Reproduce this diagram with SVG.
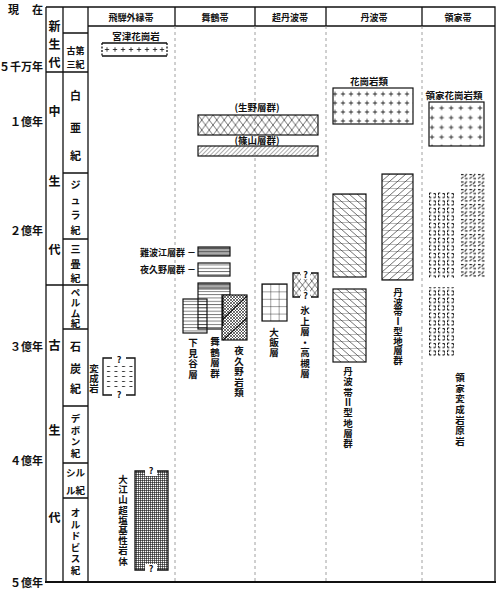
<svg xmlns="http://www.w3.org/2000/svg" width="500" height="589" viewBox="0 0 500 589">
<style>
text{font-family:"Noto Sans CJK JP","Noto Sans CJK SC",sans-serif;font-weight:bold;fill:#111}
.c{text-anchor:middle;dominant-baseline:central}
.era{font-size:12px}
.per{font-size:11px}
.ps{font-size:9.5px}
.pj{font-size:10px}
.tl{font-size:11px;text-anchor:end;dominant-baseline:central}
.hd{font-size:9px;text-anchor:middle;dominant-baseline:central}
.lb{font-size:9.5px;text-anchor:middle;dominant-baseline:central}
.vt{font-size:9.5px;text-anchor:middle;dominant-baseline:central}
.q{font-size:9px;text-anchor:middle;dominant-baseline:central}
.ln{stroke:#111;stroke-width:1.3;fill:none}
.dash{stroke:#888;stroke-width:0.8;stroke-dasharray:3 3;fill:none}
.bx{stroke:#111;stroke-width:1.2}
</style>
<defs>
<pattern id="crossA" patternUnits="userSpaceOnUse" x="331" y="89.5" width="8" height="9"><path d="M4 2.3v4.4M1.8 4.5h4.4" stroke="#111" stroke-width="0.8"/></pattern>
<pattern id="crossB" patternUnits="userSpaceOnUse" x="427.2" y="103.15" width="9.6" height="9.7"><path d="M4.8 2.6v4.5M2.55 4.85h4.5" stroke="#111" stroke-width="0.8"/></pattern>
<pattern id="xh" patternUnits="userSpaceOnUse" x="198" y="115" width="7.5" height="10"><path d="M0 0L7.5 10M7.5 0L0 10" stroke="#111" stroke-width="0.6"/></pattern>
<pattern id="xh6" patternUnits="userSpaceOnUse" x="293" y="273" width="6.25" height="8"><path d="M0 0L6.25 8M6.25 0L0 8" stroke="#111" stroke-width="0.6"/></pattern>
<pattern id="diag" patternUnits="userSpaceOnUse" width="3" height="3" patternTransform="rotate(45)"><path d="M0 0V3" stroke="#111" stroke-width="0.7"/></pattern>
<pattern id="hl" patternUnits="userSpaceOnUse" width="4" height="3.3" y="0.5"><path d="M0 0.5H4" stroke="#111" stroke-width="0.6"/></pattern>
<pattern id="grid" patternUnits="userSpaceOnUse" x="262" y="284" width="8.33" height="7.4"><path d="M0 0H8.33M0 0V7.4" stroke="#111" stroke-width="0.8"/></pattern>
<pattern id="fine" patternUnits="userSpaceOnUse" width="2" height="2"><path d="M0 0.5H2M0.5 0V2" stroke="#111" stroke-width="0.6"/></pattern>
<pattern id="chk" patternUnits="userSpaceOnUse" width="3" height="3"><path d="M0 0L3 3M3 0L0 3" stroke="#111" stroke-width="0.6"/></pattern>
<pattern id="tbII" patternUnits="userSpaceOnUse" x="333" y="194" width="8" height="7"><path d="M0 0L8 7M0 0H8" stroke="#111" stroke-width="0.6"/></pattern>
<pattern id="tbI" patternUnits="userSpaceOnUse" x="382" y="174" width="8" height="7"><path d="M0 7L8 0M0 0H8" stroke="#111" stroke-width="0.6"/></pattern>
<pattern id="dsh" patternUnits="userSpaceOnUse" x="105" y="364" width="7.5" height="5"><path d="M2 2.5h3" stroke="#111" stroke-width="0.8"/></pattern>
<pattern id="ryA" patternUnits="userSpaceOnUse" x="428" y="192" width="9" height="7.5"><path d="M1.5 1h2M1.5 1v4.5M1.5 5.5h2M5.5 1.5h2M7.5 1.5v4M5.5 5.5h2" stroke="#111" stroke-width="1" stroke-dasharray="1.8 1"/></pattern>
<pattern id="ryB" patternUnits="userSpaceOnUse" x="460" y="173" width="8.5" height="7.5"><path d="M1 1.5h2.5M6.8 0.8l-2.2 2.8M1 5.8l2.4-2M5 5.5h2.5" stroke="#111" stroke-width="1"/></pattern>
</defs>

<g id="frame">
<path class="ln" d="M46 7H495V582M46 7V583M63 7V582M88 7V582M88 26H495"/>
<path d="M45 582H496" stroke="#111" stroke-width="2"/>
<path class="ln" d="M46 72H88M46 285H88M63 33H88M63 173H88M63 239H88M63 329H88M63 406H88M63 463H88M63 498H88"/>
<path class="ln" d="M175 7V26M255 7V26M326 7V26M422 7V26"/>
</g>
<g id="connectors">
<path class="dash" d="M175 26V582M255 26V582M326 26V582M422 26V582"/>
</g>

<g id="time-labels">
<text class="tl" x="19" y="9">現</text>
<text class="tl" x="43" y="9">在</text>
<text class="tl" x="43" y="66">５千万年</text>
<text class="tl" x="43" y="121">１億年</text>
<text class="tl" x="43" y="230">２億年</text>
<text class="tl" x="43" y="346">３億年</text>
<text class="tl" x="43" y="460">４億年</text>
<text class="tl" x="43" y="582">５億年</text>
</g>

<g id="eras">
<text class="c era" x="54.5" y="25">新</text>
<text class="c era" x="54.5" y="43">生</text>
<text class="c era" x="54.5" y="61">代</text>
<text class="c era" x="54.5" y="110">中</text>
<text class="c era" x="54.5" y="180">生</text>
<text class="c era" x="54.5" y="248">代</text>
<text class="c era" x="54.5" y="344">古</text>
<text class="c era" x="54.5" y="429">生</text>
<text class="c era" x="54.5" y="516">代</text>
</g>

<g id="periods">
<text class="c" x="75.5" y="50.5" style="font-size:9px">古第</text>
<text class="c" x="75.5" y="64" style="font-size:9px">三紀</text>
<text class="c per" x="75.5" y="95">白</text>
<text class="c per" x="75.5" y="127">亜</text>
<text class="c per" x="75.5" y="155">紀</text>
<text class="c pj" x="75.5 75.5 75.5 75.5" y="184 199.5 214 229">ジュラ紀</text>
<text class="c pj" x="75.5 75.5 75.5" y="248 263 277.5">三畳紀</text>
<text class="c ps" x="75.5 75.5 75.5 75.5" y="292 302.3 312.6 323">ペルム紀</text>
<text class="c per" x="75.5" y="346">石</text>
<text class="c per" x="75.5" y="368">炭</text>
<text class="c per" x="75.5" y="388">紀</text>
<text class="c ps" x="75.5 75.5 75.5 75.5" y="418 429.7 441.4 453">デボン紀</text>
<text class="c ps" x="75.5" y="472">シル</text>
<text class="c ps" x="75.5" y="490">ル紀</text>
<text class="c ps" x="75.5 75.5 75.5 75.5 75.5 75.5" y="512 523.5 535 546.5 558 570">オルドビス紀</text>
</g>

<g id="headers">
<text class="hd" x="131" y="17">飛騨外縁帯</text>
<text class="hd" x="215" y="17">舞鶴帯</text>
<text class="hd" x="290" y="17">超丹波帯</text>
<text class="hd" x="374" y="17">丹波帯</text>
<text class="hd" x="458" y="17">領家帯</text>
</g>

<g id="miyazu">
<text class="lb" x="136" y="36">宮津花崗岩</text>
<path class="ln" d="M102 43H167M102 56H167"/>
<path d="M102 43V56M167 43V56" stroke="#111" stroke-width="1.3" stroke-dasharray="2 1.5"/>
<path d="M107 47.3v4.4M104.8 49.5h4.4M115 47.3v4.4M112.8 49.5h4.4M123 47.3v4.4M120.8 49.5h4.4M131 47.3v4.4M128.8 49.5h4.4M139 47.3v4.4M136.8 49.5h4.4M147 47.3v4.4M144.8 49.5h4.4M155 47.3v4.4M152.8 49.5h4.4M162 47.3v4.4M159.8 49.5h4.4" stroke="#111" stroke-width="0.8"/>
</g>

<g id="henseigan">
<rect x="105" y="364" width="28" height="26" fill="url(#dsh)"/>
<path class="ln" d="M112 358H103V395H112M126 358H135V395H126"/>
<text class="q" x="119" y="359">?</text>
<text class="q" x="119" y="394">?</text>
<text class="vt" x="94 94 94" y="368 378 388">変成岩</text>
</g>

<g id="oeyama">
<rect x="135" y="471" width="33" height="99" fill="url(#fine)"/>
<rect x="145" y="468" width="12" height="8" fill="#fff"/>
<rect x="145" y="564" width="12" height="8" fill="#fff"/>
<path class="ln" d="M145 471H135V570H145M157 471H168V570H157"/>
<text class="q" x="151" y="470">?</text>
<text class="q" x="151" y="568">?</text>
<text class="vt" x="123 123 123 123 123 123 123 123 123" y="479 489.2 499.4 509.6 519.8 530 540.2 550.4 560.6">大江山超塩基性岩体</text>
</g>

<g id="ikuno">
<text class="lb" x="257" y="107">(生野層群)</text>
<rect class="bx" x="198" y="115" width="120" height="20" fill="url(#xh)"/>
</g>
<g id="sasayama">
<text class="lb" x="257" y="140">(篠山層群)</text>
<rect class="bx" x="198" y="146" width="120" height="10" fill="url(#diag)"/>
</g>

<g id="nabae">
<text class="lb" x="196" y="252" style="text-anchor:end;font-size:9px">難波江層群 －</text>
<rect x="198" y="247" width="32" height="9" fill="#aaa"/>
<rect class="bx" x="198" y="247" width="32" height="9" fill="url(#hl)"/>
</g>
<g id="yakuno-group">
<text class="lb" x="196" y="269" style="text-anchor:end;font-size:9px">夜久野層群 －</text>
<rect class="bx" x="198" y="263" width="32" height="13" fill="url(#hl)"/>
</g>
<g id="maizuru-group">
<rect x="198" y="283" width="32" height="7" fill="#aaa"/>
<rect class="bx" x="198" y="283" width="32" height="46" fill="url(#hl)"/>
<text class="vt" x="215 215 215 215" y="341 351.5 362 372.5">舞鶴層群</text>
</g>
<g id="shimomidani">
<rect class="bx" x="183" y="299" width="24" height="34" fill="url(#hl)"/>
<text class="vt" x="193 193 193 193" y="342 352.5 363 373.5">下見谷層</text>
</g>
<g id="yakuno-rocks">
<rect x="222" y="295" width="25" height="45" fill="#fff"/>
<rect class="bx" x="222" y="295" width="25" height="45" fill="url(#chk)"/>
<path d="M222 320L247 296M223 340L247 318" stroke="#111" stroke-width="1.1"/>
<path d="M222.8 296V326" stroke="#111" stroke-width="1.6"/>
<text class="vt" x="239 239 239 239 239" y="350 360.5 371 381.5 392">夜久野岩類</text>
</g>

<g id="ooi">
<rect class="bx" x="262" y="284" width="25" height="37" fill="url(#grid)"/>
<text class="vt" x="274 274 274" y="332 342 352">大飯層</text>
</g>
<g id="hikami">
<rect x="293" y="273" width="25" height="24" fill="url(#xh6)"/>
<rect x="301" y="270" width="9" height="9" fill="#fff"/>
<rect x="301" y="291" width="9" height="8" fill="#fff"/>
<path class="ln" d="M300 273H293V297H300M311 273H318V297H311"/>
<text class="q" x="305.5" y="274">?</text>
<text class="q" x="305.5" y="295">?</text>
<text class="vt" x="305 305 305 305 305 305 305" y="310 320.5 331 341.5 352 362.5 373">氷上層・高槻層</text>
</g>

<g id="tamba-granite">
<text class="lb" x="369" y="81">花崗岩類</text>
<rect class="bx" x="333" y="88" width="80" height="36" fill="url(#crossA)"/>
</g>
<g id="tamba-II">
<rect class="bx" x="333" y="194" width="33" height="83" fill="url(#tbII)"/>
<rect class="bx" x="333" y="289" width="33" height="73" fill="url(#tbII)"/>
<text class="vt" x="348 348 348 348 348 348 348 348" y="371 381.3 391.6 401.9 412.2 422.5 432.8 443">丹波帯Ⅱ型地層群</text>
</g>
<g id="tamba-I">
<rect class="bx" x="382" y="174" width="31" height="106" fill="url(#tbI)"/>
<text class="vt" x="398 398 398 398 398 398 398 398" y="292 301.7 311.4 321.1 330.8 340.5 350.2 360">丹波帯Ⅰ型地層群</text>
</g>

<g id="ryoke-granite">
<text class="lb" x="454" y="95">領家花崗岩類</text>
<rect class="bx" x="429" y="102" width="55" height="44" fill="url(#crossB)"/>
</g>
<g id="ryoke-meta">
<rect x="428" y="192" width="27" height="86" fill="url(#ryA)"/>
<rect x="460" y="173" width="25" height="105" fill="url(#ryB)"/>
<rect x="428" y="287" width="27" height="70" fill="url(#ryA)"/>
<text class="vt" x="460 460 460 460 460 460 460" y="377 387.7 398.3 409 419.7 430.3 441">領家変成岩原岩</text>
</g>
</svg>
